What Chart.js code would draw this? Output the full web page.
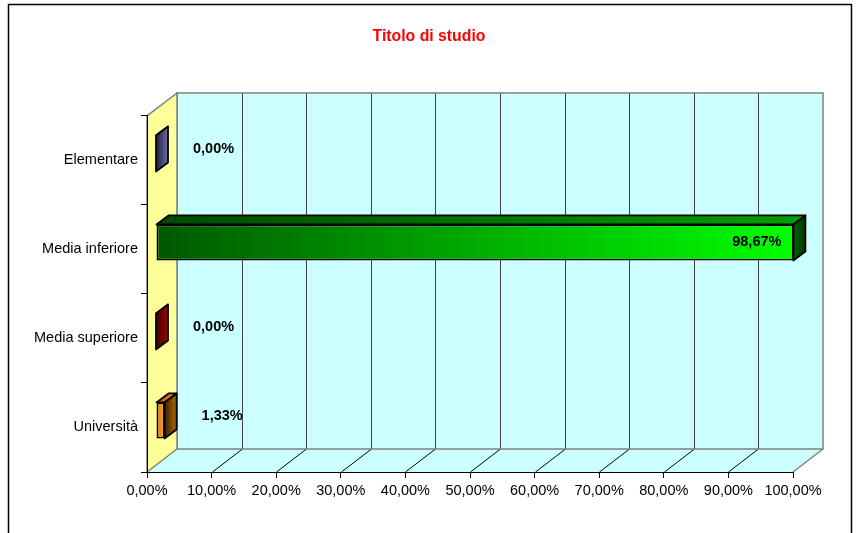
<!DOCTYPE html>
<html>
<head>
<meta charset="utf-8">
<script src="https://cdn.jsdelivr.net/npm/chart.js@4"></script>
<style>
  html, body { margin: 0; padding: 0; background: #fff; }
  #wrap { width: 858px; height: 533px; }
</style>
</head>
<body>
<div id="wrap"><canvas id="studioChart" width="858" height="533"></canvas></div>
<script>
// Dati
const categorie = ['Elementare', 'Media inferiore', 'Media superiore', 'Università'];
const percentuali = [0, 98.67, 0, 1.33];
const tickX = [0, 10, 20, 30, 40, 50, 60, 70, 80, 90, 100];

// Colori delle facce (fronte, sopra, lato) per ogni barra
const coloriFronte = [['#222255', '#555588'], ['#005800', '#00ff00'], ['#500000', '#a00000'], ['#d87800', '#ffa020']];
const coloriSopra = [['#333366', '#666699'], ['#004a00', '#00a000'], ['#600000', '#a00000'], ['#b86000', '#e08a10']];
const coloriLato = [['#1c1c40', '#6e6e9e'], ['#006000', '#003800'], ['#3a0000', '#a00000'], ['#3a2000', '#b06a00']];

// Prospettiva
const DX = 30, DY = -23;   // profondità pareti
const BX = 9, BY = -7;     // spostamento barre dentro il grafico
const BD = 12, BDY = -9;   // spessore barre

const fmt = v => v.toFixed(2).replace('.', ',') + '%';

Chart.defaults.font.family = "'Liberation Sans', Arial, sans-serif";
Chart.defaults.color = '#000';

function grad(ctx, x0, x1, c) {
    if (!isFinite(x0) || !isFinite(x1)) return c[1];
    const g = ctx.createLinearGradient(x0, 0, Math.max(x1, x0 + 1), 0);
    g.addColorStop(0, c[0]);
    g.addColorStop(1, c[1]);
    return g;
}

// Pareti, pavimento e cornice
const pareti3d = {
    id: 'pareti3d',
    beforeDraw(chart) {
        const { ctx, chartArea: a, scales: { x } } = chart;
        ctx.save();
        ctx.fillStyle = '#fff';
        ctx.fillRect(0, 0, chart.width, chart.height);
        ctx.strokeStyle = '#000';
        ctx.lineWidth = 1.5;
        ctx.strokeRect(8.5, 4.5, 843, 560);

        // parete di fondo
        ctx.fillStyle = '#ccffff';
        ctx.fillRect(a.left + DX, a.top + DY, a.width, a.height);
        // pavimento
        ctx.beginPath();
        ctx.moveTo(a.left, a.bottom);
        ctx.lineTo(a.right, a.bottom);
        ctx.lineTo(a.right + DX, a.bottom + DY);
        ctx.lineTo(a.left + DX, a.bottom + DY);
        ctx.closePath();
        ctx.fill();

        // griglia
        ctx.lineWidth = 1;
        tickX.forEach(v => {
            const px = Math.round(x.getPixelForValue(v)) + 0.5;
            if (v > 0 && v < 100) {
                ctx.strokeStyle = '#404040';
                ctx.beginPath();
                ctx.moveTo(px + DX, a.top + DY);
                ctx.lineTo(px + DX, a.bottom + DY);
                ctx.stroke();
                ctx.strokeStyle = '#000';
                ctx.beginPath();
                ctx.moveTo(px, a.bottom);
                ctx.lineTo(px + DX, a.bottom + DY);
                ctx.stroke();
            }
        });

        // bordi grigi
        ctx.strokeStyle = '#808080';
        ctx.lineWidth = 1.5;
        ctx.strokeRect(a.left + DX, a.top + DY, a.width, a.height);
        ctx.beginPath();
        ctx.moveTo(a.right, a.bottom);
        ctx.lineTo(a.right + DX, a.bottom + DY);
        ctx.stroke();

        // parete laterale gialla
        ctx.fillStyle = '#ffff99';
        ctx.beginPath();
        ctx.moveTo(a.left, a.top);
        ctx.lineTo(a.left + DX, a.top + DY);
        ctx.lineTo(a.left + DX, a.bottom + DY);
        ctx.lineTo(a.left, a.bottom);
        ctx.closePath();
        ctx.fill();
        ctx.stroke();
        ctx.restore();
    }
};

// Facce 3D delle barre ed etichette
const barre3d = {
    id: 'barre3d',
    beforeDatasetsDraw(chart) {
        chart.ctx.save();
        chart.ctx.translate(BX, BY);
    },
    afterDatasetsDraw(chart) {
        const ctx = chart.ctx;
        const meta = chart.getDatasetMeta(0);
        ctx.lineWidth = 1.8;
        ctx.strokeStyle = '#000';
        ctx.lineJoin = 'round';
        meta.data.forEach((bar, i) => {
            const { x, y, base, height } = bar.getProps(['x', 'y', 'base', 'height'], true);
            const top = y - height / 2, bot = y + height / 2;
            // sopra
            ctx.fillStyle = grad(ctx, base, x + BD, coloriSopra[i]);
            ctx.beginPath();
            ctx.moveTo(base, top);
            ctx.lineTo(base + BD, top + BDY);
            ctx.lineTo(x + BD, top + BDY);
            ctx.lineTo(x, top);
            ctx.closePath();
            ctx.fill();
            ctx.stroke();
            // lato
            ctx.fillStyle = grad(ctx, x, x + BD, coloriLato[i]);
            ctx.beginPath();
            ctx.moveTo(x, top);
            ctx.lineTo(x + BD, top + BDY);
            ctx.lineTo(x + BD, bot + BDY);
            ctx.lineTo(x, bot);
            ctx.closePath();
            ctx.fill();
            ctx.stroke();

            // etichetta
            const v = percentuali[i];
            ctx.fillStyle = '#000';
            ctx.font = "bold 14.5px 'Liberation Sans', Arial, sans-serif";
            ctx.textBaseline = 'middle';
            if (v > 50) {
                ctx.textAlign = 'right';
                ctx.fillText(fmt(v), x - 12, y);
            } else {
                ctx.textAlign = 'left';
                ctx.fillText(fmt(v), x + 37, y - 4);
            }
        });
        ctx.restore();
    }
};

const studioCtx = document.getElementById('studioChart').getContext('2d');
const studioChart = new Chart(studioCtx, {
    type: 'bar',
    data: {
        labels: categorie,
        datasets: [{
            label: 'Titolo di studio',
            data: percentuali,
            backgroundColor: c => {
                const xs = c.chart.scales.x;
                if (!xs || !c.chart.chartArea) return coloriFronte[c.dataIndex][1];
                const x0 = xs.getPixelForValue(0);
                const x1 = xs.getPixelForValue(percentuali[c.dataIndex]);
                return grad(c.chart.ctx, x0, x1, coloriFronte[c.dataIndex]);
            },
            borderColor: '#000',
            borderWidth: 1.8,
            borderSkipped: false,
            barPercentage: 0.405,
            categoryPercentage: 1,
            clip: false
        }]
    },
    options: {
        indexAxis: 'y',
        responsive: false,
        animation: false,
        devicePixelRatio: 1,
        layout: { padding: 0 },
        plugins: {
            legend: { display: false },
            tooltip: { enabled: false },
            title: {
                display: true,
                text: 'Titolo di studio',
                color: '#ff0000',
                font: { size: 15.8, weight: 'bold' },
                padding: { top: 27, bottom: 70 }
            }
        },
        scales: {
            x: {
                min: 0,
                max: 100,
                afterBuildTicks: s => { s.ticks = tickX.map(v => ({ value: v })); },
                afterFit: s => { s.height = 61; s.paddingRight = 65; },
                ticks: {
                    callback: v => fmt(v),
                    font: { size: 14.5 },
                    color: '#000',
                    padding: 4,
                    maxRotation: 0,
                    autoSkip: false
                },
                grid: { display: true, drawOnChartArea: false, drawTicks: true, tickLength: 6, color: '#000' },
                border: { display: true, color: '#000', width: 1 }
            },
            y: {
                afterFit: s => { s.width = 147; },
                ticks: { font: { size: 14.5 }, color: '#000', padding: 3 },
                grid: { display: true, drawOnChartArea: false, drawTicks: true, tickLength: 6, color: '#000', offset: true },
                border: { display: true, color: '#000', width: 1 }
            }
        }
    },
    plugins: [pareti3d, barre3d]
});
</script>
</body>
</html>
